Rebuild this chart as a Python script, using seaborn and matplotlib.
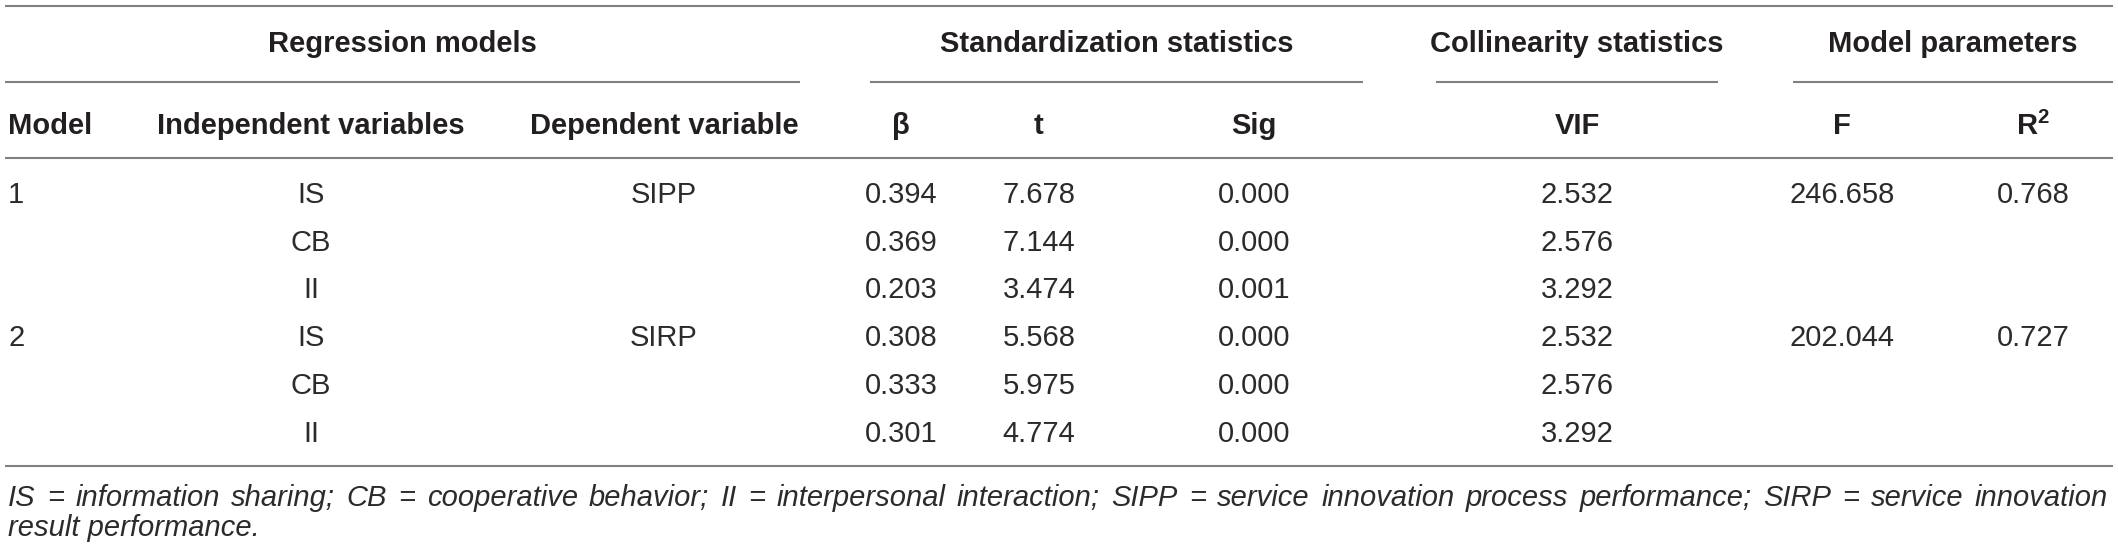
import numpy as np
import pandas as pd
import seaborn as sns
import matplotlib.pyplot as plt

# table content
group_headers = ['Regression models', 'Standardization statistics',
                 'Collinearity statistics', 'Model parameters']
col_headers = ['Model', 'Independent variables', 'Dependent variable',
               'β', 't', 'Sig', 'VIF', 'F', r'$\mathbf{R^2}$']

model = ['1', '', '', '2', '', '']
indep = ['IS', 'CB', 'II', 'IS', 'CB', 'II']
dep = ['SIPP', '', '', 'SIRP', '', '']
beta = ['0.394', '0.369', '0.203', '0.308', '0.333', '0.301']
t_val = ['7.678', '7.144', '3.474', '5.568', '5.975', '4.774']
sig = ['0.000', '0.000', '0.001', '0.000', '0.000', '0.000']
vif = ['2.532', '2.576', '3.292', '2.532', '2.576', '3.292']
f_val = ['246.658', '', '', '202.044', '', '']
r2 = ['0.768', '', '', '0.727', '', '']

footnote = ('IS = information sharing; CB = cooperative behavior; II = interpersonal '
            'interaction; SIPP = service innovation process performance; SIRP = service '
            'innovation')
footnote2 = 'result performance.'

df = pd.DataFrame({'model': model, 'indep': indep, 'dep': dep, 'beta': beta,
                   't': t_val, 'sig': sig, 'vif': vif, 'F': f_val, 'R2': r2})

sns.set_theme(style='white')
plt.rcParams['font.family'] = ['Liberation Sans', 'DejaVu Sans']
plt.rcParams['mathtext.fontset'] = 'custom'
plt.rcParams['mathtext.bf'] = 'Liberation Sans:bold'
plt.rcParams['mathtext.rm'] = 'Liberation Sans'

W, H = 2118, 552
fig = plt.figure(figsize=(W / 100, H / 100), dpi=100)
ax = fig.add_axes([0, 0, 1, 1])
ax.set_xlim(0, W)
ax.set_ylim(H, 0)
ax.axis('off')

txt = '#231f20'
body = '#2b2b2b'
rule = '#808080'
fs = 21

# column x positions (centre, except model which is left aligned)
col_x = [8, 311, 664, 901, 1039, 1254, 1577, 1842, 2033]
col_ha = ['left'] + ['center'] * 8
group_span = [(5, 800), (870, 1363), (1436, 1718), (1793, 2113)]

# rules
ax.hlines([6, 158, 466], 5, 2113, color=rule, lw=1.5)
for a, b in group_span:
    ax.hlines(82, a, b, color=rule, lw=1.5)

# group headers
for (a, b), name in zip(group_span, group_headers):
    ax.text((a + b) / 2, 44, name, ha='center', va='center',
            fontsize=fs, fontweight='bold', color=txt)

# column headers
for x, ha, name in zip(col_x, col_ha, col_headers):
    ax.text(x, 126, name, ha=ha, va='center', fontsize=fs,
            fontweight='bold', color=txt)

# body
row_y = 195 + 47.7 * np.arange(len(df))
for j, col in enumerate(df.columns):
    for y, val in zip(row_y, df[col]):
        if val:
            ax.text(col_x[j], y, val, ha=col_ha[j], va='center',
                    fontsize=fs, color=body)

# footnote, first line justified
fig.canvas.draw()
r = fig.canvas.get_renderer()
words = footnote.split(' ')
widths = []
for w in words:
    tt = ax.text(0, 0, w, fontsize=fs, style='italic')
    widths.append(tt.get_window_extent(r).width)
    tt.remove()
left, right = 8, 2108
gap = (right - left - sum(widths)) / (len(words) - 1)
x = left
for w, wd in zip(words, widths):
    ax.text(x, 498, w, ha='left', va='center', fontsize=fs,
            style='italic', color=body)
    x += wd + gap
ax.text(left, 528, footnote2, ha='left', va='center', fontsize=fs,
        style='italic', color=body)

fig.savefig('out.png', dpi=100)
